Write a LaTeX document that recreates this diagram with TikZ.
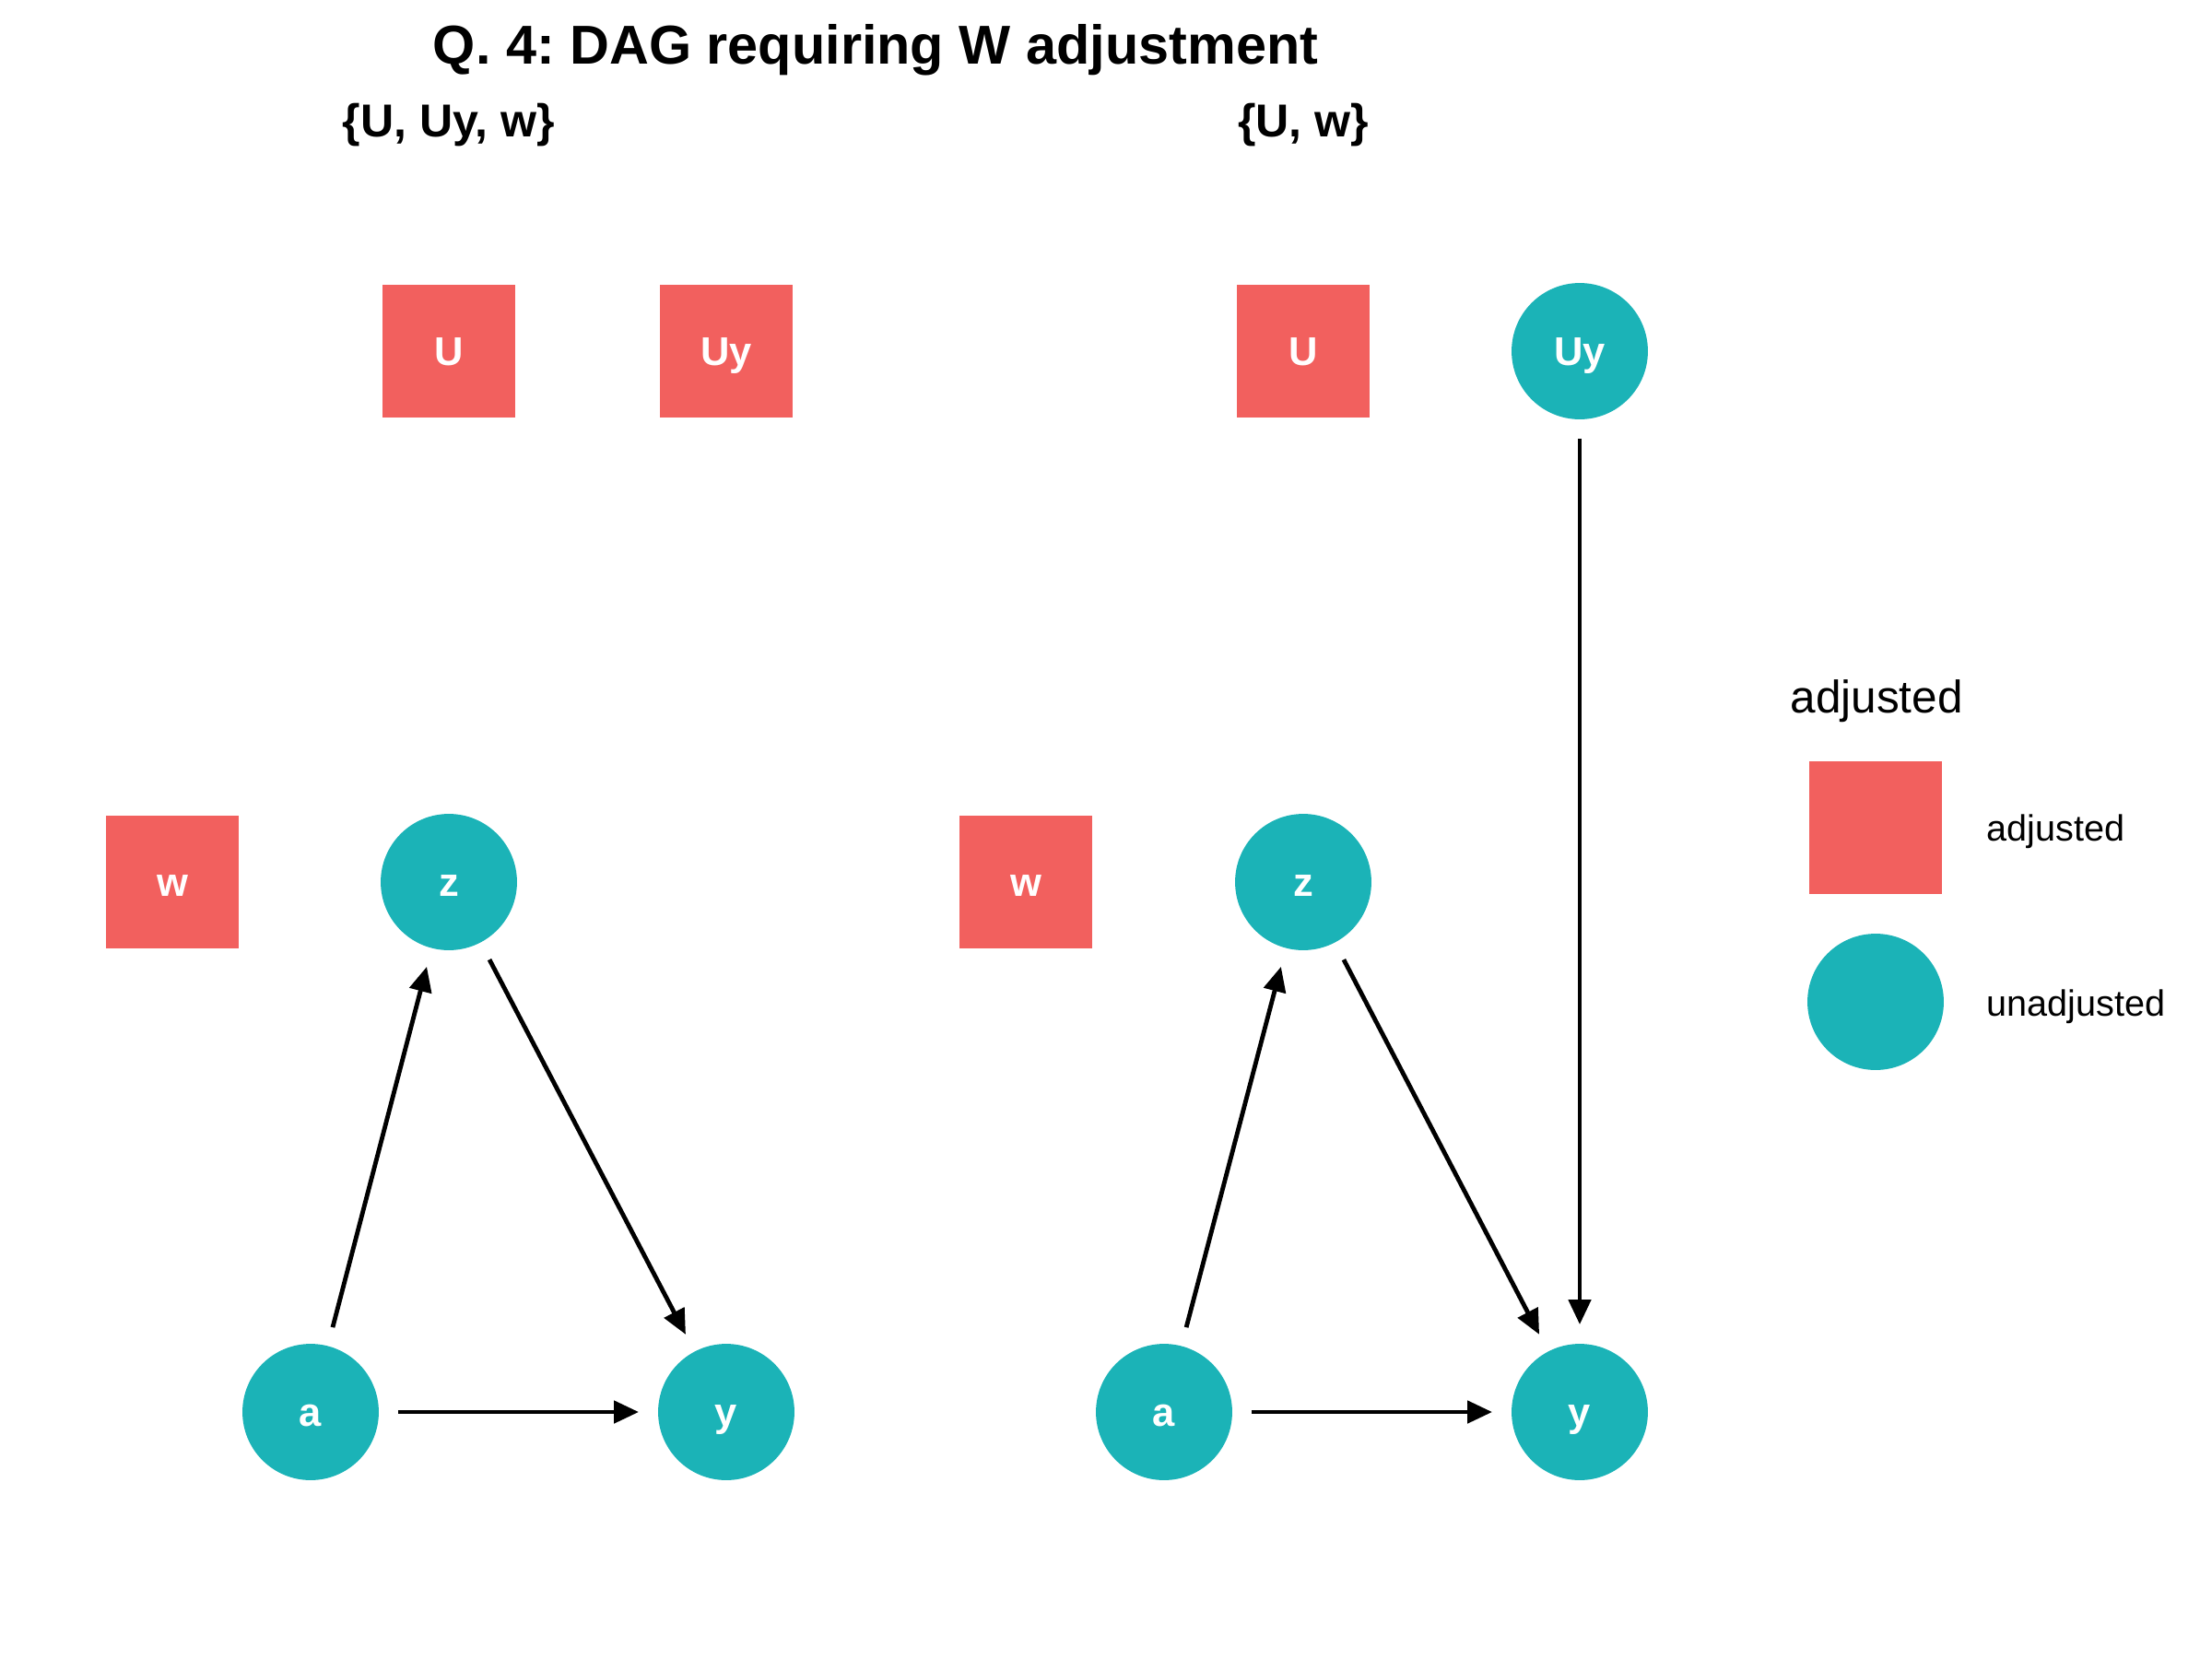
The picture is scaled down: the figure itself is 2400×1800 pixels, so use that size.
\documentclass[tikz,border=0pt]{standalone}
\usepackage{fontspec}
\setmainfont{Liberation Sans}
\usepackage{tikz}
\usetikzlibrary{arrows.meta}
\usepackage{xcolor}
\definecolor{adjfill}{RGB}{242,96,94}
\definecolor{unadjfill}{RGB}{27,179,183}
\frenchspacing
\tikzset{
    dagnode/.style={draw=none, text=white, font=\fontsize{14.5}{14.5}\selectfont\bfseries, inner sep=0pt, outer sep=0pt, text height=10.4pt, text depth=0pt},
    node_adj/.style={dagnode, rectangle, fill=adjfill, minimum size=48.3pt},
    node_unadj/.style={dagnode, circle, fill=unadjfill, minimum size=49.3pt},
    dag_edge/.style={-{Triangle[length=9pt, width=8pt]}, line width=1.6pt, shorten >=7pt, shorten <=7pt},
    plot_title/.style={anchor=base, inner sep=0pt, font=\fontsize{19.8}{19.8}\selectfont\bfseries},
    panel_title/.style={anchor=base, inner sep=0pt, font=\fontsize{16.7}{16.7}\selectfont\bfseries},
    legend_title/.style={anchor=base west, inner sep=0pt, font=\fontsize{16.5}{16.5}\selectfont},
    legend_label/.style={anchor=base west, inner sep=0pt, font=\fontsize{13.2}{13.2}\selectfont}
}

\begin{document}
\begin{tikzpicture}[x=0.33333pt, y=-0.33333pt]
    \useasboundingbox (0,0) rectangle (2400,1800);
    \node[plot_title] (title) at (950,69) {Q. 4: DAG requiring W adjustment};
    \node[panel_title] (sub1) at (487,148) {\{U, Uy, w\}};
    \node[panel_title] (sub2) at (1414,148) {\{U, w\}};

    \node[node_adj] (U1) at (487,381) {U};
    \node[node_adj] (Uy1) at (788,381) {Uy};
    \node[node_adj] (w1) at (187,957) {w};
    \node[node_unadj] (z1) at (487,957) {z};
    \node[node_unadj] (a1) at (337,1532) {a};
    \node[node_unadj] (y1) at (788,1532) {y};
    \draw[dag_edge] (a1) -- (z1);
    \draw[dag_edge] (z1) -- (y1);
    \draw[dag_edge] (a1) -- (y1);

    \node[node_adj] (U2) at (1414,381) {U};
    \node[node_unadj] (Uy2) at (1714,381) {Uy};
    \node[node_adj] (w2) at (1113,957) {w};
    \node[node_unadj] (z2) at (1414,957) {z};
    \node[node_unadj] (a2) at (1263,1532) {a};
    \node[node_unadj] (y2) at (1714,1532) {y};
    \draw[dag_edge] (a2) -- (z2);
    \draw[dag_edge] (z2) -- (y2);
    \draw[dag_edge] (a2) -- (y2);
    \draw[dag_edge] (Uy2) -- (y2);

    \node[legend_title] (legtitle) at (1942,773) {adjusted};
    \node[node_adj] (legadj) at (2035,898) {};
    \node[node_unadj] (legunadj) at (2035,1087) {};
    \node[legend_label] (labadj) at (2155,912) {adjusted};
    \node[legend_label] (labunadj) at (2155,1102) {unadjusted};
\end{tikzpicture}
\end{document}
